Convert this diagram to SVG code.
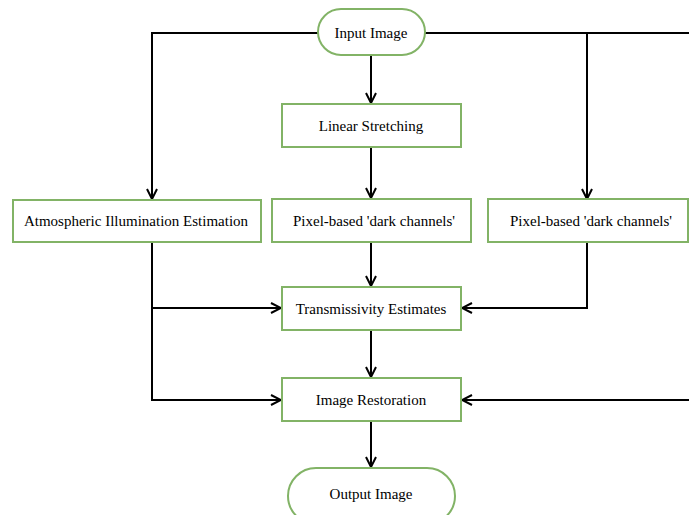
<svg xmlns="http://www.w3.org/2000/svg" width="689" height="515" viewBox="0 0 689 515">
<defs>
<marker id="arr" viewBox="0 0 12 12" refX="11" refY="6" markerWidth="12" markerHeight="12" markerUnits="userSpaceOnUse" orient="auto">
<path d="M1,1 L11,6 L1,11" fill="none" stroke="#000" stroke-width="2"/>
</marker>
<style>
.box{fill:#fff;stroke:#82b366;stroke-width:2}
.t{font-family:"Liberation Serif","Times New Roman",serif;font-size:15px;fill:#000;text-anchor:middle;dominant-baseline:central}
.c{fill:none;stroke:#000;stroke-width:2}
</style>
</defs>
<rect width="689" height="515" fill="#fff"/>
<g id="connectors">
<path class="c" d="M318,33 H152 V199" marker-end="url(#arr)"/>
<path class="c" d="M425,33 H689"/>
<path class="c" d="M587,33 V199" marker-end="url(#arr)"/>
<path class="c" d="M371,55 V103" marker-end="url(#arr)"/>
<path class="c" d="M371,147 V198" marker-end="url(#arr)"/>
<path class="c" d="M371,242 V286" marker-end="url(#arr)"/>
<path class="c" d="M152,242 V400 H281" marker-end="url(#arr)"/>
<path class="c" d="M152,308 H281" marker-end="url(#arr)"/>
<path class="c" d="M587,242 V308 H462" marker-end="url(#arr)"/>
<path class="c" d="M371,330 V377" marker-end="url(#arr)"/>
<path class="c" d="M689,400 H462" marker-end="url(#arr)"/>
<path class="c" d="M371,421 V467" marker-end="url(#arr)"/>
</g>
<g id="input"><rect class="box" x="318" y="9" width="107" height="46" rx="23"/><text class="t" x="371" y="33">Input Image</text></g>
<g id="linear"><rect class="box" x="282" y="104" width="179" height="43"/><text class="t" x="371" y="126">Linear Stretching</text></g>
<g id="atmos"><rect class="box" x="13" y="200" width="248" height="42"/><text class="t" x="136" y="221">Atmospheric Illumination Estimation</text></g>
<g id="dark1"><rect class="box" x="272" y="199" width="199" height="43"/><text class="t" x="374" y="221">Pixel-based 'dark channels'</text></g>
<g id="dark2"><rect class="box" x="488" y="199" width="200" height="43"/><text class="t" x="591" y="221">Pixel-based 'dark channels'</text></g>
<g id="trans"><rect class="box" x="282" y="287" width="179" height="43"/><text class="t" x="371" y="309">Transmissivity Estimates</text></g>
<g id="restore"><rect class="box" x="282" y="378" width="179" height="43"/><text class="t" x="371" y="400">Image Restoration</text></g>
<g id="output"><rect class="box" x="288" y="468" width="167" height="56" rx="28"/><text class="t" x="371" y="494">Output Image</text></g>
</svg>
